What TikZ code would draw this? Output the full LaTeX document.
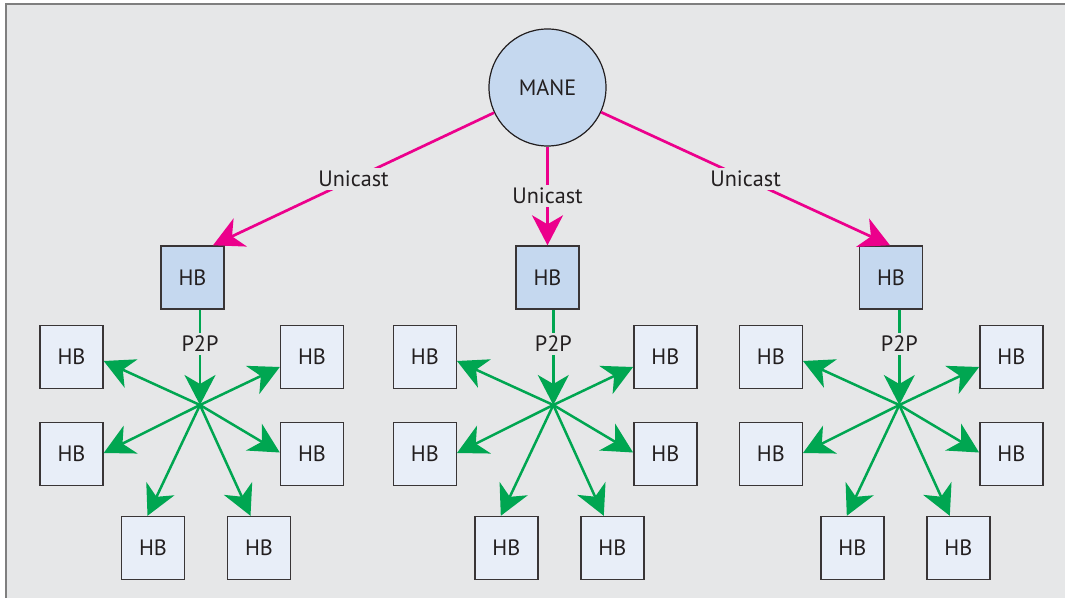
\documentclass[tikz,border=0pt]{standalone}
\usepackage{fontspec}
\setmainfont{PT Sans}
\usetikzlibrary{arrows.meta,calc}
\definecolor{bg}{HTML}{E6E7E8}
\definecolor{hbtop}{HTML}{C5D8EF}
\definecolor{hbout}{HTML}{E8EEF8}
\definecolor{uni}{HTML}{EC008C}
\definecolor{ptp}{HTML}{00A651}
\definecolor{ink}{HTML}{231F20}
\definecolor{framecol}{HTML}{7F7F7F}
\begin{document}
\begin{tikzpicture}[x=0.5pt,y=-0.5pt,
  font=\fontsize{11.1}{13}\selectfont,
  hbbox/.style={draw=ink!90, line width=0.7pt, minimum size=31.5pt, inner sep=0pt, text=ink},
  hbmain/.style={hbbox, fill=hbtop},
  hbpeer/.style={hbbox, fill=hbout},
  unicast/.style={draw=uni, line width=1.35pt, -{Stealth[length=15pt,width=15.5pt,inset=4.5pt]}},
  p2p/.style={draw=ptp, line width=1.25pt, -{Stealth[length=15pt,width=15.5pt,inset=4.5pt]}},
  lbl/.style={fill=bg, inner sep=1.5pt, text=ink}]
\useasboundingbox (0,0) rectangle (1065,598);
\fill[bg] (6,4) rectangle (1065,598);
\draw[framecol, line width=0.75pt] (5.8,598) -- (5.8,4) -- (1065,4);

\node[circle, draw=ink, line width=0.6pt, fill=hbtop, minimum size=58.5pt, inner sep=0pt, text=ink] (mane) at (547.5,87.5) {MANE};

\foreach \n/\hx/\tx in {L/200/192.5, M/553.3/547.5, R/899.3/891} {
  \coordinate (hub\n) at (\hx,405);
  \node[hbmain] (top\n) at (\tx,277.5) {HB};
  \node[hbpeer] (tl\n) at ($(hub\n)+(-128.5,-48)$) {HB};
  \node[hbpeer] (tr\n) at ($(hub\n)+(112,-48)$) {HB};
  \node[hbpeer] (ml\n) at ($(hub\n)+(-128.5,49)$) {HB};
  \node[hbpeer] (mr\n) at ($(hub\n)+(112,49)$) {HB};
  \node[hbpeer] (bl\n) at ($(hub\n)+(-47,143)$) {HB};
  \node[hbpeer] (br\n) at ($(hub\n)+(59,143)$) {HB};
  \draw[p2p] (top\n.south -| hub\n) -- node[lbl, pos=0.36] {P2P} (hub\n);
  \draw[p2p] (hub\n) -- ($(tl\n.east)+(0,4)$);
  \draw[p2p] (hub\n) -- ($(tr\n.west)+(0,10)$);
  \draw[p2p] (hub\n) -- ($(ml\n.east)+(0,-1)$);
  \draw[p2p] (hub\n) -- ($(mr\n.west)+(0,-1.5)$);
  \draw[p2p] (hub\n) -- ($(bl\n.north)+(-5.5,0)$);
  \draw[p2p] (hub\n) -- ($(br\n.north)+(-8.5,0)$);
}

\draw[unicast] (mane) -- node[lbl] {Unicast} ($(topL.north)+(20.5,0)$);
\draw[unicast] (mane) -- node[lbl] {Unicast} (topM.north);
\draw[unicast] (mane) -- node[lbl] {Unicast} ($(topR.north)+(-1,0)$);
\end{tikzpicture}
\end{document}
